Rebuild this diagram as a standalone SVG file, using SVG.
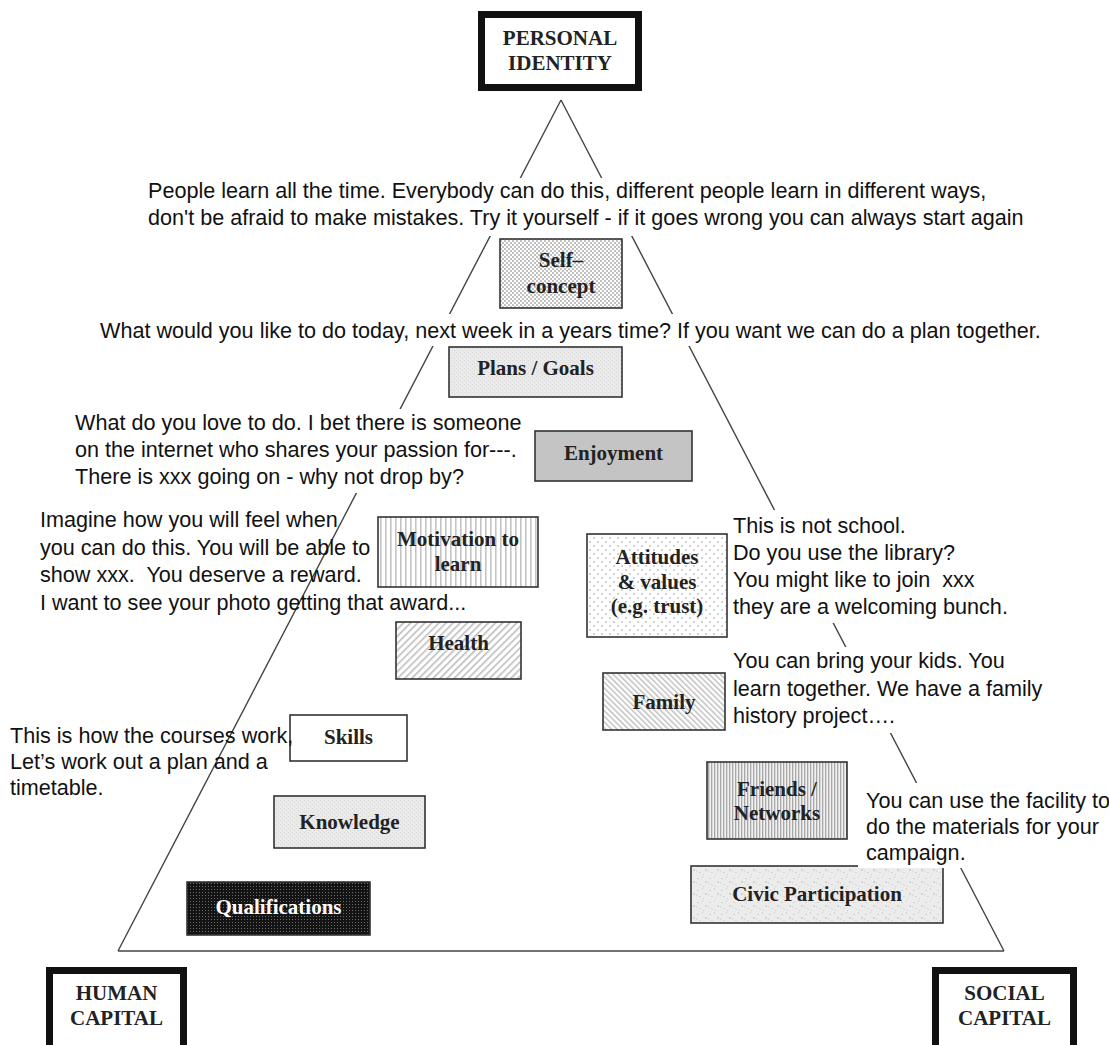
<svg xmlns="http://www.w3.org/2000/svg" width="1109" height="1045" viewBox="0 0 1109 1045">
  <defs>
    <style>
      .note { font-family: "Liberation Sans", Arial, sans-serif; font-size: 21.6px; fill: #111; white-space: pre; }
      .lbl { font-family: "Liberation Serif", "Times New Roman", serif; font-size: 21px; font-weight: bold; fill: #222; text-anchor: middle; }
      .cap { font-family: "Liberation Serif", "Times New Roman", serif; font-size: 21px; font-weight: bold; fill: #222; text-anchor: middle; }
      .frame { fill: #fff; stroke: #111; stroke-width: 7; }
      .box { stroke: #333; stroke-width: 1.6; }
      .edge { fill: none; stroke: #444; stroke-width: 1.4; }
      .mask { fill: #fff; }
    </style>
    <!-- dense stipple -->
    <pattern id="pDense" width="4" height="4" patternUnits="userSpaceOnUse">
      <rect width="4" height="4" fill="#fff"/>
      <circle cx="1" cy="1" r="0.7" fill="#555"/>
      <circle cx="3" cy="3" r="0.7" fill="#555"/>
    </pattern>
    <!-- light grey fine texture -->
    <pattern id="pLight" width="4" height="4" patternUnits="userSpaceOnUse">
      <rect width="4" height="4" fill="#eaeaea"/>
      <rect x="0" y="0" width="1" height="1" fill="#d8d8d8"/>
      <rect x="2" y="2" width="1" height="1" fill="#d8d8d8"/>
    </pattern>
    <!-- vertical stripes -->
    <pattern id="pVert" width="5" height="5" patternUnits="userSpaceOnUse">
      <rect width="5" height="5" fill="#fff"/>
      <rect x="0" y="0" width="1.6" height="5" fill="#c4c4c4"/>
    </pattern>
    <!-- close vertical stripes -->
    <pattern id="pVertDense" width="3" height="3" patternUnits="userSpaceOnUse">
      <rect width="3" height="3" fill="#f0f0f0"/>
      <rect x="0" y="0" width="1.3" height="3" fill="#a8a8a8"/>
    </pattern>
    <!-- sparse dot grid -->
    <pattern id="pSparse" width="8" height="8" patternUnits="userSpaceOnUse">
      <rect width="8" height="8" fill="#fff"/>
      <circle cx="2" cy="2" r="0.8" fill="#999"/>
      <circle cx="6" cy="6" r="0.8" fill="#999"/>
    </pattern>
    <!-- forward hatching -->
    <pattern id="pFwd" width="5" height="5" patternUnits="userSpaceOnUse" patternTransform="rotate(45)">
      <rect width="5" height="5" fill="#fff"/>
      <rect x="0" y="0" width="1.6" height="5" fill="#bdbdbd"/>
    </pattern>
    <!-- back hatching -->
    <pattern id="pBack" width="4" height="4" patternUnits="userSpaceOnUse" patternTransform="rotate(-45)">
      <rect width="4" height="4" fill="#fff"/>
      <rect x="0" y="0" width="1.4" height="4" fill="#bdbdbd"/>
    </pattern>
    <!-- dark grid -->
    <pattern id="pDark" width="3" height="3" patternUnits="userSpaceOnUse">
      <rect width="3" height="3" fill="#141414"/>
      <rect x="1" y="1" width="1" height="1" fill="#6a6a6a"/>
    </pattern>
    <!-- mottled grey -->
    <pattern id="pMottle" width="12" height="12" patternUnits="userSpaceOnUse">
      <rect width="12" height="12" fill="#ececec"/>
      <rect x="1" y="2" width="2" height="1" fill="#d4d4d4"/>
      <rect x="6" y="0" width="1" height="2" fill="#d8d8d8"/>
      <rect x="9" y="5" width="2" height="2" fill="#d2d2d2"/>
      <rect x="3" y="8" width="2" height="1" fill="#d6d6d6"/>
      <rect x="7" y="10" width="1" height="1" fill="#cfcfcf"/>
      <rect x="0" y="6" width="1" height="2" fill="#dadada"/>
    </pattern>
  </defs>

  <rect width="1109" height="1045" fill="#fff"/>

  <!-- triangle sides -->
  <g id="connectors">
    <line class="edge" x1="561" y1="100" x2="118" y2="951"/>
    <line class="edge" x1="561" y1="100" x2="1004" y2="951"/>
    <line class="edge" x1="118" y1="951" x2="1004" y2="951"/>
  </g>

  <!-- corner headings -->
  <g id="personal-identity">
    <rect class="frame" x="481.5" y="14.5" width="157" height="73"/>
    <text class="cap" x="560" y="45">PERSONAL</text>
    <text class="cap" x="560" y="70">IDENTITY</text>
  </g>
  <g id="human-capital">
    <rect class="frame" x="49.5" y="970.5" width="134" height="82"/>
    <text class="cap" x="116.5" y="1000">HUMAN</text>
    <text class="cap" x="116.5" y="1025">CAPITAL</text>
  </g>
  <g id="social-capital">
    <rect class="frame" x="935.5" y="970.5" width="138" height="82"/>
    <text class="cap" x="1004.5" y="1000">SOCIAL</text>
    <text class="cap" x="1004.5" y="1025">CAPITAL</text>
  </g>

  <!-- factor boxes -->
  <g id="self-concept">
    <rect class="box" x="500" y="239" width="122" height="69" fill="url(#pDense)"/>
    <text class="lbl" x="561" y="267">Self–</text>
    <text class="lbl" x="561" y="293">concept</text>
  </g>
  <g id="plans-goals">
    <rect class="box" x="449" y="347" width="173" height="50" fill="url(#pLight)"/>
    <text class="lbl" x="535.5" y="375">Plans / Goals</text>
  </g>
  <g id="enjoyment">
    <rect class="box" x="535" y="431" width="157" height="50" fill="#c4c4c4"/>
    <text class="lbl" x="613.5" y="460">Enjoyment</text>
  </g>
  <g id="motivation">
    <rect class="box" x="378" y="517" width="160" height="70" fill="url(#pVert)"/>
    <text class="lbl" x="458" y="546">Motivation to</text>
    <text class="lbl" x="458" y="571">learn</text>
  </g>
  <g id="attitudes">
    <rect class="box" x="587" y="534" width="140" height="103" fill="url(#pSparse)"/>
    <text class="lbl" x="657" y="564">Attitudes</text>
    <text class="lbl" x="657" y="589">&amp; values</text>
    <text class="lbl" x="657" y="613">(e.g. trust)</text>
  </g>
  <g id="health">
    <rect class="box" x="396" y="622" width="125" height="57" fill="url(#pFwd)"/>
    <text class="lbl" x="458.5" y="650">Health</text>
  </g>
  <g id="family">
    <rect class="box" x="603" y="673" width="122" height="57" fill="url(#pBack)"/>
    <text class="lbl" x="664" y="709">Family</text>
  </g>
  <g id="skills">
    <rect class="box" x="290" y="715" width="117" height="46" fill="#fff"/>
    <text class="lbl" x="348.5" y="744">Skills</text>
  </g>
  <g id="knowledge">
    <rect class="box" x="274" y="796" width="151" height="52" fill="url(#pLight)"/>
    <text class="lbl" x="349.5" y="829">Knowledge</text>
  </g>
  <g id="qualifications">
    <rect class="box" x="187" y="882" width="183" height="53" fill="url(#pDark)"/>
    <text class="lbl" x="278.5" y="914" style="fill:#fff">Qualifications</text>
  </g>
  <g id="friends-networks">
    <rect class="box" x="707" y="762" width="140" height="77" fill="url(#pVertDense)"/>
    <text class="lbl" x="777" y="796">Friends /</text>
    <text class="lbl" x="777" y="820">Networks</text>
  </g>
  <g id="civic-participation">
    <rect class="box" x="691" y="866" width="252" height="57" fill="url(#pMottle)"/>
    <text class="lbl" x="817" y="901">Civic Participation</text>
  </g>

  <!-- prompts -->
  <g id="note-learning">
    <rect class="mask" x="140" y="178" width="905" height="58"/>
    <text class="note" x="148" y="198">People learn all the time. Everybody can do this, different people learn in different ways,</text>
    <text class="note" x="148" y="225">don't be afraid to make mistakes. Try it yourself - if it goes wrong you can always start again</text>
  </g>
  <g id="note-plans">
    <rect class="mask" x="94" y="314" width="1000" height="32"/>
    <text class="note" x="100" y="338">What would you like to do today, next week in a years time? If you want we can do a plan together.</text>
  </g>
  <g id="note-enjoyment">
    <rect class="mask" x="70" y="409" width="450" height="84"/>
    <text class="note" x="75" y="430">What do you love to do. I bet there is someone</text>
    <text class="note" x="75" y="457">on the internet who shares your passion for---.</text>
    <text class="note" x="75" y="484">There is xxx going on - why not drop by?</text>
  </g>
  <g id="note-motivation">
    <text class="note" x="40" y="527">Imagine how you will feel when</text>
    <text class="note" x="40" y="555">you can do this. You will be able to</text>
    <text class="note" x="40" y="582" xml:space="preserve">show xxx.  You deserve a reward.</text>
    <text class="note" x="40" y="610">I want to see your photo getting that award...</text>
  </g>
  <g id="note-skills">
    <text class="note" x="10" y="743">This is how the courses work,</text>
    <text class="note" x="10" y="769">Let’s work out a plan and a</text>
    <text class="note" x="10" y="795">timetable.</text>
  </g>
  <g id="note-attitudes">
    <rect class="mask" x="729" y="510" width="245" height="113"/>
    <text class="note" x="733" y="533">This is not school.</text>
    <text class="note" x="733" y="560">Do you use the library?</text>
    <text class="note" x="733" y="587" xml:space="preserve">You might like to join  xxx</text>
    <text class="note" x="733" y="614">they are a welcoming bunch.</text>
  </g>
  <g id="note-family">
    <rect class="mask" x="729" y="647" width="290" height="86"/>
    <text class="note" x="733" y="668">You can bring your kids. You</text>
    <text class="note" x="733" y="696">learn together. We have a family</text>
    <text class="note" x="733" y="723">history project….</text>
  </g>
  <g id="note-civic">
    <rect class="mask" x="858" y="783" width="251" height="85"/>
    <text class="note" x="866" y="808">You can use the facility to</text>
    <text class="note" x="866" y="834">do the materials for your</text>
    <text class="note" x="866" y="860">campaign.</text>
  </g>
</svg>
